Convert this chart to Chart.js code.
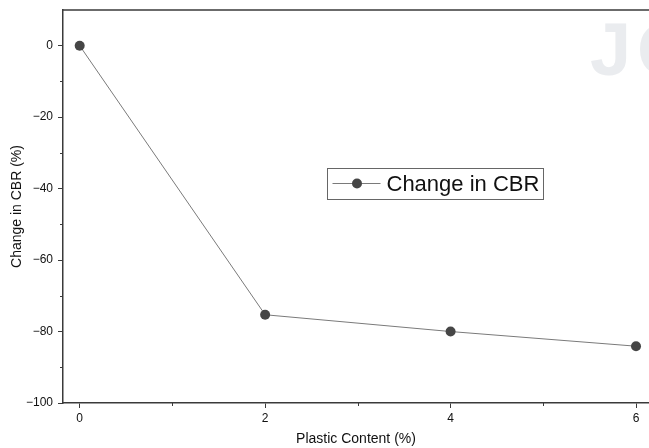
<!DOCTYPE html>
<html>
<head>
<meta charset="utf-8">
<title>Change in CBR</title>
<script src="https://cdn.jsdelivr.net/npm/chart.js@4.4.1/dist/chart.umd.min.js"></script>
<style>
  html, body { margin: 0; padding: 0; background: #fff; }
  canvas { display: block; }
</style>
</head>
<body>
<canvas id="cbrChart" width="649" height="448"></canvas>
<script>
// Plastic content (%) and the resulting change in CBR (%)
const plasticContent = [0, 2, 4, 6];
const cbrChange = [0, -75.3, -80, -84.1];
const seriesLabel = 'Change in CBR';

const axisColor = '#3a3a3a';
const fontFamily = '"Liberation Sans", Arial, sans-serif';

// Minus sign like the original axis labels
function fmt(v) {
    return v < 0 ? '\u2212' + Math.abs(v) : String(v);
}

// Faint watermark, top frame line, minor ticks and the boxed legend
const decorations = {
    id: 'decorations',
    beforeDatasetsDraw(chart) {
        const ctx = chart.ctx;
        ctx.save();
        ctx.fillStyle = '#eaecef';
        ctx.font = 'bold 74px ' + fontFamily;
        ctx.textBaseline = 'alphabetic';
        ctx.fillText('J', 590, 75);
        ctx.fillText('O', 637, 75);
        ctx.restore();
    },
    afterDraw(chart) {
        const ctx = chart.ctx;
        const area = chart.chartArea;
        const xs = chart.scales.x;
        const ys = chart.scales.y;
        ctx.save();
        ctx.strokeStyle = axisColor;
        ctx.lineWidth = 1.5;
        ctx.beginPath();
        ctx.moveTo(area.left, area.top);
        ctx.lineTo(area.right, area.top);
        ctx.stroke();

        // minor ticks
        ctx.lineWidth = 1;
        ctx.beginPath();
        [1, 3, 5].forEach(v => {
            const px = Math.round(xs.getPixelForValue(v)) + 0.5;
            ctx.moveTo(px, area.bottom);
            ctx.lineTo(px, area.bottom + 3);
        });
        [-10, -30, -50, -70, -90].forEach(v => {
            const py = Math.round(ys.getPixelForValue(v)) + 0.5;
            ctx.moveTo(area.left, py);
            ctx.lineTo(area.left - 3, py);
        });
        ctx.stroke();

        // legend box
        const ds = chart.data.datasets[0];
        const bx = 327.5, by = 168.5, bw = 216, bh = 31;
        ctx.strokeStyle = '#666';
        ctx.lineWidth = 1;
        ctx.strokeRect(bx, by, bw, bh);
        const ly = by + 15;
        ctx.strokeStyle = ds.borderColor;
        ctx.beginPath();
        ctx.moveTo(bx + 5, ly);
        ctx.lineTo(bx + 53, ly);
        ctx.stroke();
        ctx.fillStyle = ds.pointBackgroundColor;
        ctx.beginPath();
        ctx.arc(bx + 29.5, ly, 5, 0, Math.PI * 2);
        ctx.fill();
        ctx.fillStyle = '#111';
        ctx.font = '22px ' + fontFamily;
        ctx.textBaseline = 'alphabetic';
        ctx.fillText(ds.label, bx + 59, by + 22);
        ctx.restore();
    }
};

// no extra room around the plot for overhanging tick labels
function noEdgePadding(s) {
    s.paddingLeft = 0;
    s.paddingRight = 0;
    s.paddingTop = 0;
    s.paddingBottom = 0;
}

new Chart(document.getElementById('cbrChart'), {
    type: 'line',
    data: {
        datasets: [{
            label: seriesLabel,
            data: plasticContent.map((x, i) => ({ x: x, y: cbrChange[i] })),
            borderColor: '#7a7a7a',
            borderWidth: 1,
            pointRadius: 5,
            pointHoverRadius: 5,
            pointBackgroundColor: '#464646',
            pointBorderWidth: 0,
            tension: 0
        }]
    },
    options: {
        responsive: false,
        animation: false,
        layout: {
            autoPadding: false,
            padding: { top: 10, right: 0, left: 0, bottom: 0 }
        },
        plugins: {
            legend: { display: false },
            tooltip: { enabled: false }
        },
        scales: {
            x: {
                type: 'linear',
                min: -0.18,
                max: 6.14,
                afterFit: s => { s.height = 45; noEdgePadding(s); },
                border: { color: axisColor, width: 1.5 },
                grid: {
                    drawOnChartArea: false,
                    tickLength: 5,
                    tickColor: c => (c.tick && c.tick.value % 2 === 0) ? axisColor : 'transparent'
                },
                ticks: {
                    stepSize: 1,
                    includeBounds: false,
                    padding: 3,
                    color: '#111',
                    font: { family: fontFamily, size: 12 },
                    callback: v => v % 2 === 0 ? fmt(v) : ''
                },
                title: {
                    display: true,
                    text: 'Plastic Content (%)',
                    color: '#111',
                    font: { family: fontFamily, size: 14 },
                    padding: { top: 0, bottom: 0 }
                }
            },
            y: {
                min: -100,
                max: 10,
                afterFit: s => { s.width = 63; noEdgePadding(s); },
                border: { color: axisColor, width: 1.5 },
                grid: {
                    drawOnChartArea: false,
                    tickLength: 5,
                    tickColor: c => (c.tick && c.tick.value % 20 === 0 && c.tick.value <= 0) ? axisColor : 'transparent'
                },
                ticks: {
                    stepSize: 10,
                    padding: 5,
                    color: '#111',
                    font: { family: fontFamily, size: 12 },
                    callback: v => (v % 20 === 0 && v <= 0) ? fmt(v) : ''
                },
                title: {
                    display: true,
                    text: 'Change in CBR (%)',
                    color: '#111',
                    font: { family: fontFamily, size: 14 },
                    padding: { top: 9, bottom: 0 }
                }
            }
        }
    },
    plugins: [decorations]
});
</script>
</body>
</html>
